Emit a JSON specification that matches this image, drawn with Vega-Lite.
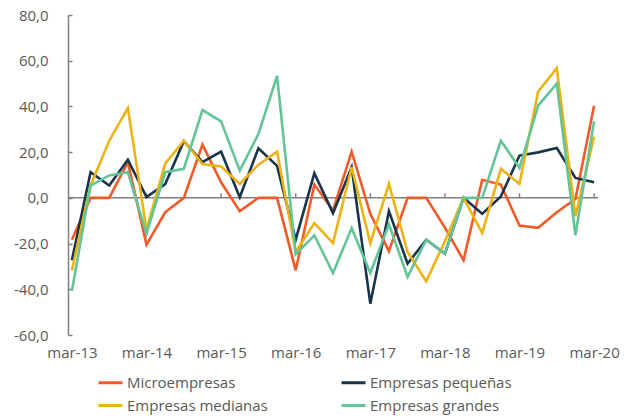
{
  "$schema": "https://vega.github.io/schema/vega-lite/v6.json",
  "autosize": "none",
  "width": 530,
  "height": 320,
  "padding": {"left": 68, "top": 15, "right": 43, "bottom": 85},
  "background": "white",
  "config": {
    "view": {"stroke": null},
    "font": "Open Sans",
    "axis": {"labelFont": "Open Sans", "labelColor": "#595959", "labelFontSize": 15, "grid": false, "title": null},
    "legend": {"labelFont": "Open Sans", "labelColor": "#595959", "labelFontSize": 15}
  },
  "datasets": {
    "ticks": [
      {"q": "mar-14"}, {"q": "mar-15"}, {"q": "mar-16"}, {"q": "mar-17"}, {"q": "mar-18"}, {"q": "mar-19"}, {"q": "mar-20"}
    ],
    "series": [
      {"q":"mar-13","s":"Microempresas","v":-18.3},{"q":"jun-13","s":"Microempresas","v":0},{"q":"sep-13","s":"Microempresas","v":0},{"q":"dic-13","s":"Microempresas","v":15.6},
      {"q":"mar-14","s":"Microempresas","v":-20.5},{"q":"jun-14","s":"Microempresas","v":-6.3},{"q":"sep-14","s":"Microempresas","v":0},{"q":"dic-14","s":"Microempresas","v":23.3},
      {"q":"mar-15","s":"Microempresas","v":6.8},{"q":"jun-15","s":"Microempresas","v":-5.8},{"q":"sep-15","s":"Microempresas","v":0},{"q":"dic-15","s":"Microempresas","v":0},
      {"q":"mar-16","s":"Microempresas","v":-31.7},{"q":"jun-16","s":"Microempresas","v":5.8},{"q":"sep-16","s":"Microempresas","v":-5.5},{"q":"dic-16","s":"Microempresas","v":20.2},
      {"q":"mar-17","s":"Microempresas","v":-7},{"q":"jun-17","s":"Microempresas","v":-23.3},{"q":"sep-17","s":"Microempresas","v":0},{"q":"dic-17","s":"Microempresas","v":0},
      {"q":"mar-18","s":"Microempresas","v":-13},{"q":"jun-18","s":"Microempresas","v":-27.3},{"q":"sep-18","s":"Microempresas","v":7.9},{"q":"dic-18","s":"Microempresas","v":5.8},
      {"q":"mar-19","s":"Microempresas","v":-12.1},{"q":"jun-19","s":"Microempresas","v":-13.1},{"q":"sep-19","s":"Microempresas","v":-6.3},{"q":"dic-19","s":"Microempresas","v":-0.5},
      {"q":"mar-20","s":"Microempresas","v":40.3},

      {"q":"mar-13","s":"Empresas pequeñas","v":-27.3},{"q":"jun-13","s":"Empresas pequeñas","v":11.2},{"q":"sep-13","s":"Empresas pequeñas","v":5.4},{"q":"dic-13","s":"Empresas pequeñas","v":16.7},
      {"q":"mar-14","s":"Empresas pequeñas","v":0.3},{"q":"jun-14","s":"Empresas pequeñas","v":6},{"q":"sep-14","s":"Empresas pequeñas","v":24.8},{"q":"dic-14","s":"Empresas pequeñas","v":15.6},
      {"q":"mar-15","s":"Empresas pequeñas","v":20.2},{"q":"jun-15","s":"Empresas pequeñas","v":0.3},{"q":"sep-15","s":"Empresas pequeñas","v":21.7},{"q":"dic-15","s":"Empresas pequeñas","v":14},
      {"q":"mar-16","s":"Empresas pequeñas","v":-18.3},{"q":"jun-16","s":"Empresas pequeñas","v":10.8},{"q":"sep-16","s":"Empresas pequeñas","v":-6.7},{"q":"dic-16","s":"Empresas pequeñas","v":13.4},
      {"q":"mar-17","s":"Empresas pequeñas","v":-46.3},{"q":"jun-17","s":"Empresas pequeñas","v":-5.8},{"q":"sep-17","s":"Empresas pequeñas","v":-28.8},{"q":"dic-17","s":"Empresas pequeñas","v":-18.3},
      {"q":"mar-18","s":"Empresas pequeñas","v":-24.4},{"q":"jun-18","s":"Empresas pequeñas","v":0},{"q":"sep-18","s":"Empresas pequeñas","v":-7},{"q":"dic-18","s":"Empresas pequeñas","v":0.6},
      {"q":"mar-19","s":"Empresas pequeñas","v":18.5},{"q":"jun-19","s":"Empresas pequeñas","v":19.9},{"q":"sep-19","s":"Empresas pequeñas","v":21.8},{"q":"dic-19","s":"Empresas pequeñas","v":8.7},
      {"q":"mar-20","s":"Empresas pequeñas","v":6.8},

      {"q":"mar-13","s":"Empresas medianas","v":-31.7},{"q":"jun-13","s":"Empresas medianas","v":5.4},{"q":"sep-13","s":"Empresas medianas","v":25},{"q":"dic-13","s":"Empresas medianas","v":39.3},
      {"q":"mar-14","s":"Empresas medianas","v":-14},{"q":"jun-14","s":"Empresas medianas","v":15},{"q":"sep-14","s":"Empresas medianas","v":25},{"q":"dic-14","s":"Empresas medianas","v":14.8},
      {"q":"mar-15","s":"Empresas medianas","v":13.7},{"q":"jun-15","s":"Empresas medianas","v":6.1},{"q":"sep-15","s":"Empresas medianas","v":14.5},{"q":"dic-15","s":"Empresas medianas","v":20.2},
      {"q":"mar-16","s":"Empresas medianas","v":-23.7},{"q":"jun-16","s":"Empresas medianas","v":-11},{"q":"sep-16","s":"Empresas medianas","v":-19.8},{"q":"dic-16","s":"Empresas medianas","v":13.4},
      {"q":"mar-17","s":"Empresas medianas","v":-19.8},{"q":"jun-17","s":"Empresas medianas","v":6.1},{"q":"sep-17","s":"Empresas medianas","v":-23.7},{"q":"dic-17","s":"Empresas medianas","v":-36.5},
      {"q":"mar-18","s":"Empresas medianas","v":-19},{"q":"jun-18","s":"Empresas medianas","v":0},{"q":"sep-18","s":"Empresas medianas","v":-15.4},{"q":"dic-18","s":"Empresas medianas","v":12.7},
      {"q":"mar-19","s":"Empresas medianas","v":6.1},{"q":"jun-19","s":"Empresas medianas","v":46.5},{"q":"sep-19","s":"Empresas medianas","v":56.7},{"q":"dic-19","s":"Empresas medianas","v":-8.1},
      {"q":"mar-20","s":"Empresas medianas","v":26.8},

      {"q":"mar-13","s":"Empresas grandes","v":-40.7},{"q":"jun-13","s":"Empresas grandes","v":5.4},{"q":"sep-13","s":"Empresas grandes","v":9.8},{"q":"dic-13","s":"Empresas grandes","v":11.2},
      {"q":"mar-14","s":"Empresas grandes","v":-15.7},{"q":"jun-14","s":"Empresas grandes","v":11.2},{"q":"sep-14","s":"Empresas grandes","v":12.7},{"q":"dic-14","s":"Empresas grandes","v":38.4},
      {"q":"mar-15","s":"Empresas grandes","v":33.5},{"q":"jun-15","s":"Empresas grandes","v":11.9},{"q":"sep-15","s":"Empresas grandes","v":27.9},{"q":"dic-15","s":"Empresas grandes","v":53.4},
      {"q":"mar-16","s":"Empresas grandes","v":-24.7},{"q":"jun-16","s":"Empresas grandes","v":-16.4},{"q":"sep-16","s":"Empresas grandes","v":-32.9},{"q":"dic-16","s":"Empresas grandes","v":-13.2},
      {"q":"mar-17","s":"Empresas grandes","v":-32.9},{"q":"jun-17","s":"Empresas grandes","v":-11.6},{"q":"sep-17","s":"Empresas grandes","v":-34.6},{"q":"dic-17","s":"Empresas grandes","v":-18.3},
      {"q":"mar-18","s":"Empresas grandes","v":-24.4},{"q":"jun-18","s":"Empresas grandes","v":0},{"q":"sep-18","s":"Empresas grandes","v":0},{"q":"dic-18","s":"Empresas grandes","v":25},
      {"q":"mar-19","s":"Empresas grandes","v":13.1},{"q":"jun-19","s":"Empresas grandes","v":40.3},{"q":"sep-19","s":"Empresas grandes","v":50},{"q":"dic-19","s":"Empresas grandes","v":-16.4},
      {"q":"mar-20","s":"Empresas grandes","v":33.5}
    ]
  },
  "encoding": {
    "x": {
      "field": "q", "type": "ordinal",
      "scale": {
        "type": "point", "padding": 0.21,
        "domain": ["mar-13","jun-13","sep-13","dic-13","mar-14","jun-14","sep-14","dic-14","mar-15","jun-15","sep-15","dic-15","mar-16","jun-16","sep-16","dic-16","mar-17","jun-17","sep-17","dic-17","mar-18","jun-18","sep-18","dic-18","mar-19","jun-19","sep-19","dic-19","mar-20"]
      },
      "axis": {
        "values": ["mar-13","mar-14","mar-15","mar-16","mar-17","mar-18","mar-19","mar-20"],
        "labelAngle": 0, "ticks": false, "domain": false, "labelPadding": 10
      }
    }
  },
  "layer": [
    {
      "mark": {"type": "rule", "color": "#7f7f7f", "strokeWidth": 1.5},
      "data": {"values": [{"z": 0}]},
      "encoding": {"x": null, "y": {"field": "z", "type": "quantitative", "scale": {"domain": [-60, 80], "nice": false}}}
    },
    {
      "mark": {"type": "rule", "color": "#7f7f7f", "strokeWidth": 1.5},
      "data": {"name": "ticks"},
      "encoding": {"y": {"datum": 0, "type": "quantitative"}, "y2": {"datum": 2}}
    },
    {
      "data": {"name": "series"},
      "mark": {"type": "line", "strokeWidth": 2.6},
      "encoding": {
        "y": {
          "field": "v", "type": "quantitative",
          "scale": {"domain": [-60, 80], "nice": false},
          "axis": {
            "values": [-60, -40, -20, 0, 20, 40, 60, 80],
            "labelExpr": "datum.value + ',0'",
            "domainColor": "#7f7f7f", "domainWidth": 1.5,
            "tickColor": "#7f7f7f", "tickWidth": 1.5, "tickSize": -4,
            "labelPadding": 24
          }
        },
        "color": {
          "field": "s", "type": "nominal",
          "scale": {
            "domain": ["Microempresas", "Empresas pequeñas", "Empresas medianas", "Empresas grandes"],
            "range": ["#F15A29", "#17344A", "#EDB213", "#62C497"]
          },
          "legend": {
            "title": null, "orient": "none", "legendX": 29, "legendY": 354,
            "direction": "horizontal", "columns": 2, "columnPadding": 67, "rowPadding": 1,
            "symbolType": "stroke", "symbolSize": 576, "symbolStrokeWidth": 3, "labelOffset": 3
          }
        }
      }
    }
  ]
}
